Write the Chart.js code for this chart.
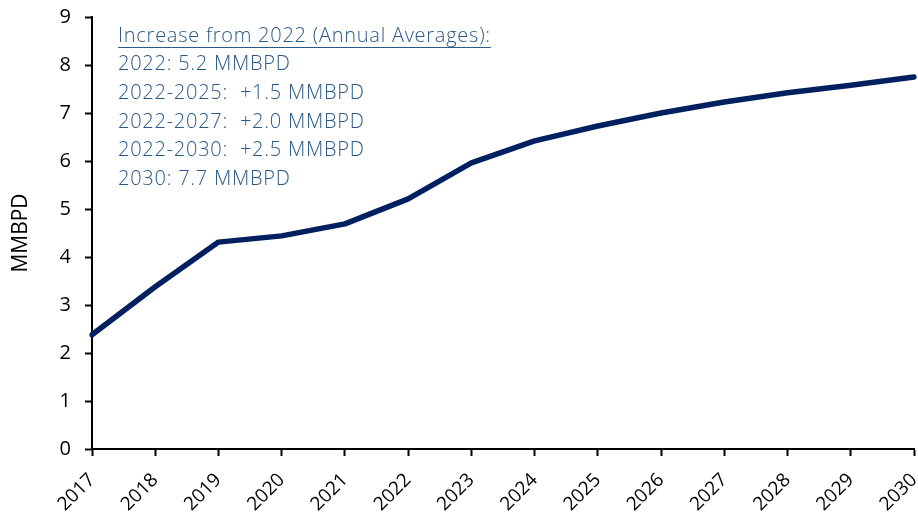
<!DOCTYPE html>
<html lang="en">
<head>
    <script src="https://cdn.jsdelivr.net/npm/chart.js"></script>
    <style>
        html, body {
            margin: 0;
            padding: 0;
            background: #ffffff;
        }
        #container {
            width: 918px;
            height: 513px;
            position: relative;
        }
    </style>
</head>
<body>
    <div id="container">
        <canvas id="myChart"></canvas>
    </div>

    <script>
        const years = ['2017', '2018', '2019', '2020', '2021', '2022', '2023',
                       '2024', '2025', '2026', '2027', '2028', '2029', '2030'];
        const production = [2.38, 3.38, 4.31, 4.44, 4.69, 5.21, 5.96,
                            6.42, 6.73, 7.0, 7.23, 7.42, 7.58, 7.75];
        const noteTitle = 'Increase from 2022 (Annual Averages):';
        const noteLines = [
            '2022: 5.2 MMBPD',
            '2022-2025:  +1.5 MMBPD',
            '2022-2027:  +2.0 MMBPD',
            '2022-2030:  +2.5 MMBPD',
            '2030: 7.7 MMBPD'
        ];

        const fontFamily = '"Open Sans", "Noto Sans", sans-serif';
        const noteColor = '#2b5987';

        // text box in the upper left of the plot
        const notePlugin = {
            id: 'note',
            afterDraw(chart) {
                const ctx = chart.ctx;
                const area = chart.chartArea;
                const x = area.left + 26;
                let y = area.top + 19;
                ctx.save();
                ctx.font = '300 20px ' + fontFamily;
                ctx.letterSpacing = '0.75px';
                ctx.fillStyle = noteColor;
                ctx.textBaseline = 'middle';
                ctx.textAlign = 'left';
                ctx.fillText(noteTitle, x, y);
                const w = ctx.measureText(noteTitle).width;
                ctx.strokeStyle = noteColor;
                ctx.lineWidth = 1.2;
                ctx.beginPath();
                ctx.moveTo(x, y + 11.5);
                ctx.lineTo(x + w, y + 11.5);
                ctx.stroke();
                noteLines.forEach(function (line) {
                    y += 28.6;
                    ctx.fillText(line, x, y);
                });
                ctx.restore();
            }
        };

        const ctx = document.getElementById('myChart').getContext('2d');
        const chart = new Chart(ctx, {
            type: 'line',
            data: {
                labels: years,
                datasets: [{
                    label: 'MMBPD',
                    data: production,
                    borderColor: '#002060',
                    borderWidth: 5.5,
                    borderCapStyle: 'round',
                    borderJoinStyle: 'round',
                    pointRadius: 0,
                    tension: 0,
                    fill: false
                }]
            },
            options: {
                responsive: true,
                maintainAspectRatio: false,
                animation: false,
                layout: {
                    padding: { top: 17, right: 4, left: 0, bottom: 0 }
                },
                plugins: {
                    legend: { display: false },
                    tooltip: { enabled: false }
                },
                scales: {
                    x: {
                        offset: false,
                        grid: {
                            drawOnChartArea: false,
                            drawTicks: true,
                            tickLength: 7,
                            tickColor: '#000000',
                            tickWidth: 2
                        },
                        border: { color: '#000000', width: 2 },
                        ticks: {
                            color: '#000000',
                            minRotation: 45,
                            maxRotation: 45,
                            padding: 13,
                            font: { family: fontFamily, size: 19 }
                        },
                        afterFit(scale) {
                            scale.height = 64;
                            scale.paddingLeft = 0;
                            scale.paddingRight = 0;
                        }
                    },
                    y: {
                        min: 0,
                        max: 9,
                        grid: {
                            drawOnChartArea: false,
                            drawTicks: true,
                            tickLength: 7,
                            tickColor: '#000000',
                            tickWidth: 2
                        },
                        border: { color: '#000000', width: 2 },
                        ticks: {
                            stepSize: 1,
                            color: '#000000',
                            padding: 14,
                            font: { family: fontFamily, size: 20 }
                        },
                        title: {
                            display: true,
                            text: 'MMBPD',
                            color: '#000000',
                            padding: { top: 8, bottom: 0 },
                            font: { family: fontFamily, size: 21 }
                        },
                        afterFit(scale) {
                            scale.width = 92;
                            scale.paddingTop = 0;
                            scale.paddingBottom = 0;
                        }
                    }
                }
            },
            plugins: [notePlugin]
        });
    </script>
</body>
</html>
